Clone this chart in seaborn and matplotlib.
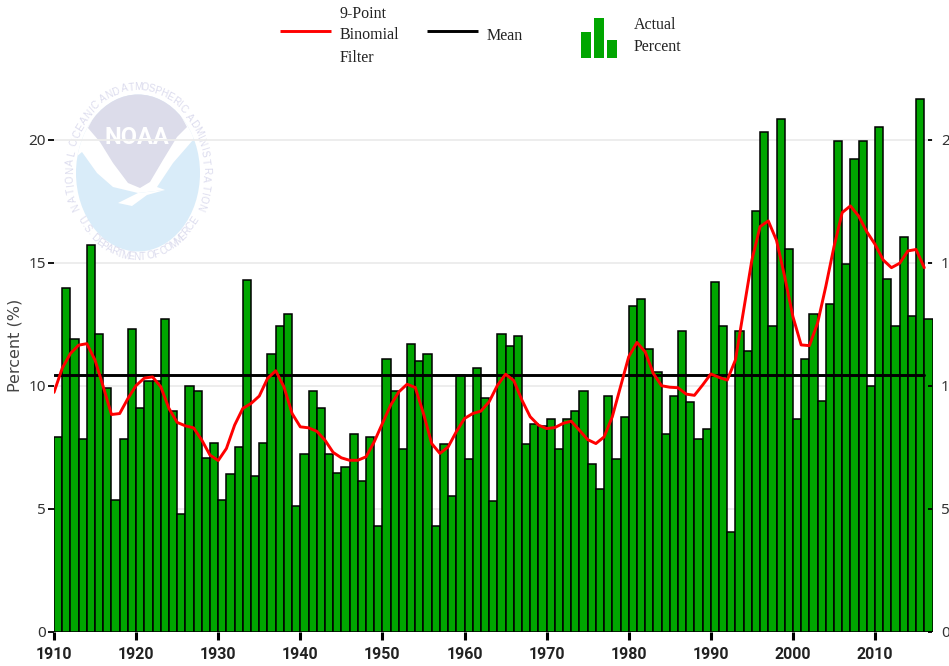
#!/usr/bin/env python3
"""Percent of area per year as green bars, with a 9-point binomial filter and the mean."""
import matplotlib

matplotlib.use("Agg")
import matplotlib.pyplot as plt
import numpy as np
import pandas as pd
import seaborn as sns
from matplotlib.patches import Ellipse, Polygon, Rectangle

YEARS = list(range(1910, 2017))
ACTUAL = [
    7.89, 13.98, 11.88, 7.82, 15.70, 12.09, 9.90, 5.33, 7.82, 12.29,
    9.10, 10.20, 10.20, 12.70, 8.97, 4.76, 10.00, 9.78, 7.07, 7.68,
    5.33, 6.41, 7.48, 14.30, 6.33, 7.68, 11.27, 12.43, 12.90, 5.11,
    7.20, 9.78, 9.10, 7.20, 6.46, 6.67, 8.02, 6.12, 7.89, 4.30,
    11.07, 9.78, 7.41, 11.68, 11.00, 11.27, 4.30, 7.61, 5.51, 10.42,
    7.00, 10.73, 9.51, 5.31, 12.09, 11.61, 12.00, 7.61, 8.43, 8.36,
    8.63, 7.41, 8.63, 8.97, 9.78, 6.80, 5.79, 9.58, 7.00, 8.70,
    13.24, 13.52, 11.48, 10.53, 8.03, 9.59, 12.23, 9.32, 7.83, 8.23,
    14.20, 12.43, 4.03, 12.23, 11.42, 17.11, 20.29, 12.43, 20.82, 15.53,
    8.64, 11.08, 12.91, 9.37, 13.31, 19.95, 14.94, 19.20, 19.95, 9.99,
    20.49, 14.33, 12.43, 16.02, 12.84, 21.63, 12.70,
]
FILTERED = [
    9.72, 10.70, 11.30, 11.64, 11.70, 11.03, 9.95, 8.82, 8.86, 9.47,
    10.00, 10.30, 10.35, 9.95, 9.07, 8.50, 8.36, 8.28, 7.78, 7.17,
    6.95, 7.44, 8.39, 9.07, 9.27, 9.57, 10.28, 10.60, 9.95, 8.86,
    8.32, 8.28, 8.14, 7.78, 7.28, 7.06, 6.96, 6.96, 7.10, 7.71,
    8.46, 9.20, 9.74, 10.05, 9.92, 8.86, 7.64, 7.24, 7.50, 8.12,
    8.66, 8.86, 8.96, 9.34, 10.00, 10.46, 10.20, 9.40, 8.73, 8.39,
    8.25, 8.29, 8.46, 8.55, 8.18, 7.80, 7.64, 7.91, 8.73, 9.95,
    11.17, 11.75, 11.37, 10.49, 9.99, 9.93, 9.91, 9.65, 9.60, 10.02,
    10.47, 10.33, 10.22, 11.04, 13.07, 15.10, 16.46, 16.69, 15.90, 14.42,
    12.80, 11.65, 11.62, 12.53, 14.02, 15.64, 17.03, 17.30, 16.89, 16.25,
    15.74, 15.10, 14.79, 14.97, 15.47, 15.53, 14.79,
]
MEAN = 10.42
Y_TICKS = [0, 5, 10, 15, 20]
X_TICKS = list(range(1910, 2011, 10))

GREEN = "#00a600"
LOGO_BLUE = "#d9ecf9"
LOGO_LILAC = "#dcdcea"
LOGO_TEXT = "#dcdcee"

W, H = 949, 666


def arc_text(ax, text, start, end, cx=138, cy=173, rx=68, ry=86, flip=False):
    # angles in degrees, clockwise from the top of the logo; narrow letters take less arc
    widths = np.array([0.45 if ch in "I .,'" else 1.0 for ch in text])
    steps = np.cumsum(widths) - widths / 2
    angles = start + (end - start) * steps / widths.sum()
    for ch, a in zip(text, np.radians(angles)):
        x = cx + rx * np.sin(a)
        y = cy - ry * np.cos(a)
        rot = -np.degrees(a) + (180 if flip else 0)
        ax.text(x, y, ch, rotation=rot, rotation_mode="anchor", ha="center", va="center",
                fontsize=7.2, color=LOGO_TEXT, family="Liberation Sans")


def draw_logo(ax):
    oval = Ellipse((138, 173), 124, 157, fc=LOGO_BLUE, ec="none", zorder=1)
    ax.add_patch(oval)
    # white swoop of the bird
    wing = Polygon(
        [(73, 117), (76, 157), (82, 152), (97, 173), (113, 187), (138, 193), (165, 190),
         (157, 187), (173, 163), (193, 140), (203, 117)],
        fc="white", ec="none", zorder=2,
    )
    ax.add_patch(wing)
    wing.set_clip_path(oval)
    tail = Polygon([(118, 203), (138, 193), (165, 190), (147, 195), (132, 206)],
                   fc="white", ec="none", zorder=2)
    ax.add_patch(tail)
    dome = Polygon(
        [(88, 128), (100, 105), (138, 90), (175, 105), (187, 127), (177, 137), (163, 160),
         (150, 182), (140, 188), (128, 183), (113, 163), (100, 142)],
        fc=LOGO_LILAC, ec="none", zorder=3,
    )
    ax.add_patch(dome)
    dome.set_clip_path(oval)
    ax.text(137, 137, "NOAA", ha="center", va="center", fontsize=17, color="white",
            fontweight="bold", family="Roboto", zorder=4)
    arc_text(ax, "NATIONAL OCEANIC AND ATMOSPHERIC ADMINISTRATION", -116, 116)
    arc_text(ax, "U.S. DEPARTMENT OF COMMERCE", -122, -238, ry=84, flip=True)


def draw_legend(ax):
    serif = {"family": "Liberation Serif", "fontsize": 11.5, "color": "#222222", "va": "center"}
    ax.plot([280, 331], [31, 31], color="#ff0000", lw=2.1, solid_capstyle="butt")
    ax.plot([427, 478], [31, 31], color="black", lw=2.1, solid_capstyle="butt")
    for y, line in zip([14, 35, 58], ["9-Point", "Binomial", "Filter"]):
        ax.text(340, y, line, **serif)
    ax.text(487, 36, "Mean", **serif)
    for x, top in zip([581, 594, 607], [32, 18, 40]):
        ax.add_patch(Rectangle((x, top), 10, 58 - top, fc=GREEN, ec="none"))
    ax.text(634, 25, "Actual", **serif)
    ax.text(634, 47, "Percent", **serif)


def main():
    df = pd.DataFrame({"year": YEARS, "actual": ACTUAL, "filtered": FILTERED})
    # bars sit to the right of their year tick
    df["bar_x"] = df["year"] + 0.5
    df["mean"] = MEAN

    sns.set_style("white")
    plt.rcParams["font.family"] = ["Noto Sans", "DejaVu Sans"]

    fig = plt.figure(figsize=(W / 100, H / 100), dpi=100)

    back = fig.add_axes([0, 0, 1, 1], zorder=0)
    back.set_xlim(0, W)
    back.set_ylim(H, 0)
    back.axis("off")
    draw_logo(back)
    draw_legend(back)
    back.text(15, 345, "Percent (%)", rotation=90, ha="center", va="center", fontsize=11.5,
              color="#444444", family="DejaVu Sans")

    ax = fig.add_axes([54 / W, 1 - 631.5 / H, 878.5 / W, 541.2 / H], zorder=1)
    ax.patch.set_alpha(0)
    sns.barplot(data=df, x="bar_x", y="actual", native_scale=True, width=1.0, color=GREEN,
                saturation=1, edgecolor="black", linewidth=1.1, ax=ax, zorder=3)
    sns.lineplot(data=df, x="year", y="mean", color="black", lw=2.1, ax=ax, zorder=4)
    sns.lineplot(data=df, x="year", y="filtered", color="#ff0000", lw=2.1, ax=ax, zorder=5)

    ax.set_xlim(1910, 2017)
    ax.set_ylim(0, 22)
    ax.set_xticks(X_TICKS)
    ax.set_xticklabels([str(x) for x in X_TICKS], fontweight="bold", fontsize=11.5,
                       color="#222222", family="Roboto")
    ax.set_yticks(Y_TICKS)
    ax.set_xlabel("")
    ax.set_ylabel("")
    ax.yaxis.grid(True, color="#ececec", lw=1.3, zorder=0)
    ax.set_axisbelow(True)
    ax.tick_params(axis="x", bottom=True, length=6, width=2.2, color="black", pad=5)
    ax.tick_params(axis="y", left=True, length=4, width=1.3, color="black", pad=2,
                   labelsize=11, labelcolor="#333333")
    for side in ax.spines.values():
        side.set_visible(False)

    ax2 = ax.twinx()
    ax2.set_ylim(ax.get_ylim())
    ax2.set_yticks(Y_TICKS)
    ax2.tick_params(axis="y", right=True, direction="in", length=3, width=1.3, color="black",
                    pad=6, labelsize=11, labelcolor="#333333")
    for side in ax2.spines.values():
        side.set_visible(False)

    fig.savefig("out.png", dpi=100)
    plt.close(fig)


if __name__ == "__main__":
    main()
